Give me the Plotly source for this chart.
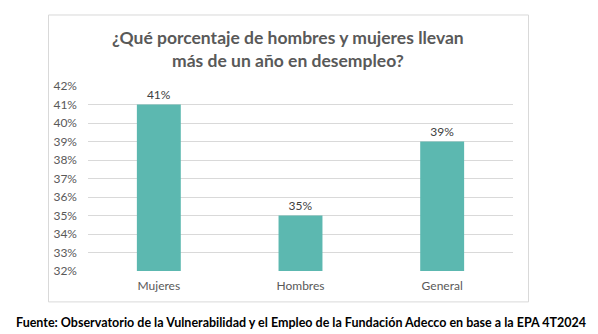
import plotly.graph_objects as go

categories = ["Mujeres", "Hombres", "General"]
values = [41, 35, 39]
labels = ["41%", "35%", "39%"]
tick_vals = [32, 33, 34, 35, 36, 37, 38, 39, 40, 41, 42]
tick_text = [f"{v}%" for v in tick_vals]

title_text = "¿Qué porcentaje de hombres y mujeres llevan<br>más de un año en desempleo?"
source_text = "Fuente: Observatorio de la Vulnerabilidad y el Empleo de la Fundación Adecco en base a la EPA 4T2024"

W, H = 598, 334
L, R, T, B = 88, 513, 85.5, 271


def px(x):
    return (x - L) / (R - L)


def py(y):
    return (B - y) / (B - T)


fig = go.Figure(go.Bar(
    x=categories, y=values, text=labels, textposition="outside",
    textfont=dict(family="Lato, Calibri, sans-serif", size=12, color="#404040"),
    marker=dict(color="#5CB8B0", line=dict(width=0)),
    cliponaxis=False,
))

fig.update_layout(
    width=W, height=H,
    margin=dict(l=L, r=W - R, t=T, b=H - B, pad=0),
    paper_bgcolor="white", plot_bgcolor="white",
    bargap=0.69,
    showlegend=False,
    font=dict(family="Lato, Calibri, sans-serif", size=12, color="#595959"),
    xaxis=dict(showgrid=False, showline=False, zeroline=False, ticks="",
               tickfont=dict(size=12, color="#595959"), ticklabelstandoff=6),
    yaxis=dict(range=[32, 42], tickvals=tick_vals, ticktext=tick_text,
               showgrid=True, gridcolor="#D9D9D9", gridwidth=1, zeroline=False,
               showline=False, ticks="", tickfont=dict(size=12, color="#595959"),
               ticklabelstandoff=10),
    shapes=[dict(type="rect", xref="paper", yref="paper",
                 x0=px(48.5), x1=px(528.5), y0=py(302), y1=py(14.3),
                 line=dict(color="#D9D9D9", width=1), fillcolor="rgba(0,0,0,0)",
                 layer="below")],
    annotations=[
        dict(text=title_text, xref="paper", yref="paper", x=px(287.5), y=py(48),
             xanchor="center", yanchor="middle", showarrow=False, align="center",
             font=dict(family="Lato, Calibri, sans-serif", size=17.5, color="#595959", weight="bold")),
        dict(text=source_text, xref="paper", yref="paper", x=px(300.5), y=py(323),
             xanchor="center", yanchor="middle", showarrow=False,
             font=dict(family="Lato, Calibri, sans-serif", size=12.5, color="#000000", weight="bold")),
    ],
)

fig.write_html("out.html")
